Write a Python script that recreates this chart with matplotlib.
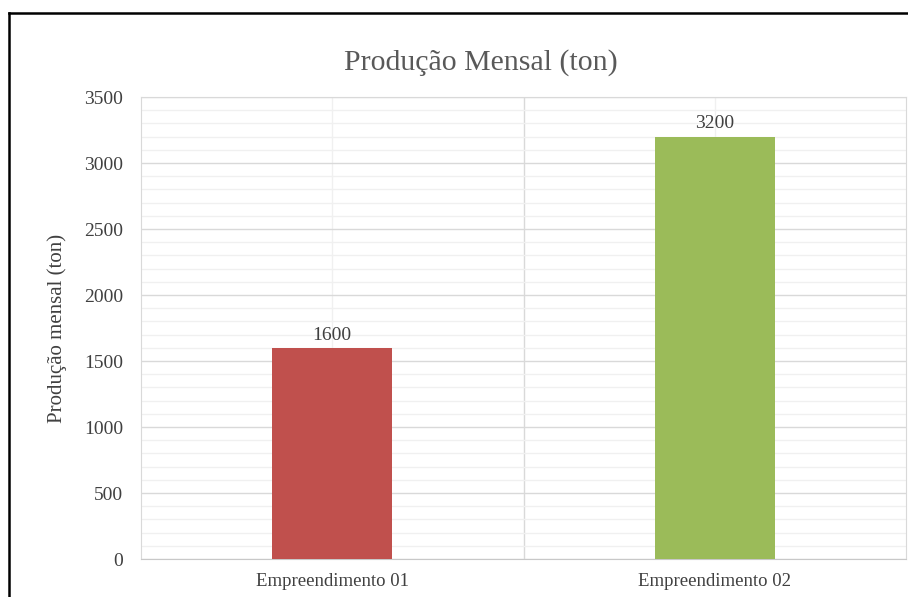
import numpy as np
import matplotlib
matplotlib.use("Agg")
import matplotlib.pyplot as plt
from matplotlib.lines import Line2D
from matplotlib.ticker import MultipleLocator, FixedLocator

categorias = ["Empreendimento 01", "Empreendimento 02"]
producao = [1600, 3200]
cores = ["#C0504D", "#9BBB59"]

plt.rcParams['font.family'] = ['Liberation Serif', 'DejaVu Serif']

fig = plt.figure(figsize=(9.08, 5.97), dpi=100)
ax = fig.add_axes([141/908, 38/597, 765/908, 462/597])

x = np.arange(len(categorias))
bars = ax.bar(x, producao, width=0.314, color=cores, zorder=3)

for b, v in zip(bars, producao):
    ax.annotate(str(v), (b.get_x() + b.get_width()/2, v), xytext=(0, 3),
                textcoords="offset points", ha="center", va="bottom",
                fontsize=14, color="#404040")

ax.set_xlim(-0.5, 1.5)
ax.set_ylim(0, 3500)
ax.set_xticks(x)
ax.set_xticklabels(categorias)
ax.xaxis.set_minor_locator(FixedLocator([0.5]))
ax.yaxis.set_major_locator(MultipleLocator(500))
ax.yaxis.set_minor_locator(MultipleLocator(100))

ax.grid(which="major", axis="y", color="#d9d9d9", lw=1, zorder=0)
ax.grid(which="minor", axis="y", color="#f0f0f0", lw=1, zorder=0)
ax.grid(which="major", axis="x", color="#f0f0f0", lw=1, zorder=0)
ax.grid(which="minor", axis="x", color="#d9d9d9", lw=1, zorder=0)
ax.set_axisbelow(True)

ax.tick_params(which="both", length=0)
ax.tick_params(axis="y", labelsize=14, labelcolor="#404040", pad=13)
ax.tick_params(axis="x", labelsize=13.5, labelcolor="#404040", pad=10)

for s in ax.spines.values():
    s.set_color("#d9d9d9")
ax.spines["bottom"].set_color("#c8c8c8")

ax.set_ylabel("Produção mensal (ton)", fontsize=15, color="#404040", labelpad=12)
fig.text(481/908, 1 - 63/597, "Produção Mensal (ton)", ha="center", va="center",
         fontsize=21.5, color="#595959")

# moldura preta (topo e esquerda)
fig.add_artist(Line2D([9/908, 1], [1 - 13/597, 1 - 13/597], color="black", lw=1.8))
fig.add_artist(Line2D([9/908, 9/908], [0, 1 - 13/597], color="black", lw=1.8))

fig.savefig("out.png", dpi=100)
